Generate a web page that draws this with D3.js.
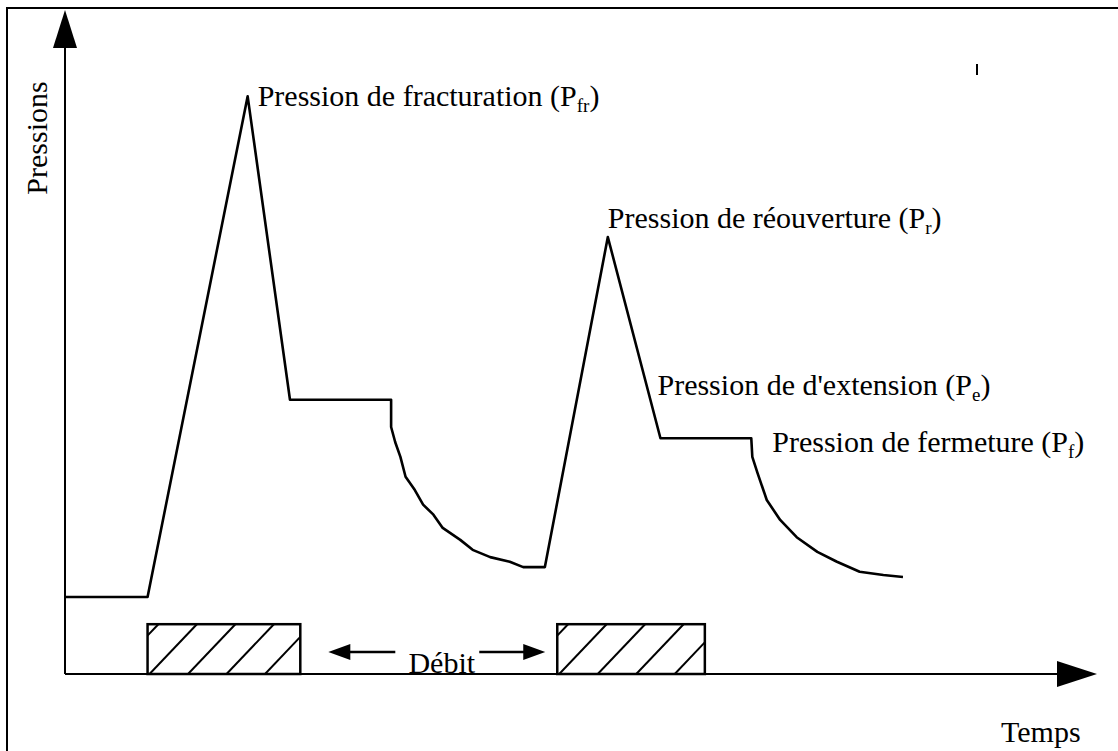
<!DOCTYPE html>
<html>
<head>
<meta charset="utf-8">
<script src="https://cdn.jsdelivr.net/npm/d3@7"></script>
<style>
  html, body { margin: 0; padding: 0; background: #fff; }
  svg { display: block; }
  text { font-family: "Liberation Serif", "Times New Roman", serif; fill: #000; }
</style>
</head>
<body>
<div id="chart"></div>
<script>
const width = 1118;
const height = 751;

// courbe pression / temps (unités arbitraires, 0-100)
const times = [0, 8.0, 17.7, 21.8, 31.6, 31.6, 32.0, 32.5, 33.0, 33.9, 34.7, 35.7, 36.6, 38.3, 39.5, 41.2, 43.1, 44.4, 46.5,
  52.6, 57.7, 66.5, 66.6, 67.1, 68.0, 69.3, 70.9, 72.9, 74.8, 77.0, 79.3, 81.2];
const pressures = [11.6, 11.6, 87.0, 41.3, 41.3, 37.2, 34.9, 32.7, 29.7, 27.7, 25.5, 24.0, 22.0, 20.2, 18.7, 17.6, 16.9, 16.1, 16.1,
  65.8, 35.5, 35.5, 32.7, 30.3, 26.2, 23.2, 20.6, 18.4, 16.9, 15.4, 14.9, 14.6];

// périodes d'injection (débit)
const flowStart = [8.0, 47.7];
const flowEnd = [22.8, 62.0];
const flowLevel = 7.5;

// annotations
const labelTexts = ["Pression de fracturation (P", "Pression de réouverture (P", "Pression de d'extension (P", "Pression de fermeture (P"];
const labelSubs = ["fr", "r", "e", "f"];
const labelPoints = [2, 19, 20, 21]; // index du point de la courbe
const labelOffsets = [[10, 10], [0, -9], [-3, -43], [21, 14]];

const svg = d3.select("#chart")
  .append("svg")
  .attr("width", width)
  .attr("height", height);

svg.append("rect")
  .attr("width", width)
  .attr("height", height)
  .attr("fill", "#fff");

const x = d3.scaleLinear().domain([0, 100]).range([65, 1097]);
const y = d3.scaleLinear().domain([0, 100]).range([674, 10]);

// cadre
svg.append("path")
  .attr("d", `M7,${height} V8 H${width}`)
  .attr("fill", "none")
  .attr("stroke", "#000")
  .attr("stroke-width", 2);

// axes avec flèches
svg.append("line")
  .attr("x1", x(0)).attr("y1", y(0))
  .attr("x2", x(0)).attr("y2", y(100) + 20)
  .attr("stroke", "#000").attr("stroke-width", 2);
svg.append("path")
  .attr("d", `M${x(0)},${y(100)} L${x(0) - 12},${y(100) + 38} L${x(0) + 12},${y(100) + 38} Z`)
  .attr("fill", "#000");

svg.append("line")
  .attr("x1", x(0)).attr("y1", y(0))
  .attr("x2", x(100) - 20).attr("y2", y(0))
  .attr("stroke", "#000").attr("stroke-width", 2);
svg.append("path")
  .attr("d", `M${x(100)},${y(0)} L${x(100) - 40},${y(0) - 13} L${x(100) - 40},${y(0) + 13} Z`)
  .attr("fill", "#000");

svg.append("text")
  .attr("transform", `translate(47,${y(0) - 536}) rotate(-90)`)
  .attr("text-anchor", "middle")
  .attr("font-size", 30)
  .text("Pressions");

svg.append("text")
  .attr("x", 1001)
  .attr("y", 742)
  .attr("font-size", 30)
  .text("Temps");

// courbe
const data = times.map((t, i) => ({ t: t, p: pressures[i] }));
const line = d3.line().x(d => x(d.t)).y(d => y(d.p));

svg.append("path")
  .datum(data)
  .attr("d", line)
  .attr("fill", "none")
  .attr("stroke", "#000")
  .attr("stroke-width", 2.6)
  .attr("stroke-linejoin", "round");

// blocs hachurés du débit
const flows = flowStart.map((s, i) => ({ s: s, e: flowEnd[i] }));
const defs = svg.append("defs");

flows.forEach((f, i) => {
  const x0 = x(f.s), x1 = x(f.e), y0 = y(flowLevel), y1 = y(0);
  const h = y1 - y0;
  defs.append("clipPath").attr("id", "clip" + i)
    .append("rect")
    .attr("x", x0).attr("y", y0)
    .attr("width", x1 - x0).attr("height", h);

  const step = 38.5;
  const starts = d3.range(x0 + 2 - step, x1, step);
  svg.append("g")
    .attr("clip-path", `url(#clip${i})`)
    .selectAll("line")
    .data(starts)
    .enter().append("line")
    .attr("x1", d => d).attr("y1", y1)
    .attr("x2", d => d + h * 0.95).attr("y2", y0)
    .attr("stroke", "#000")
    .attr("stroke-width", 2);

  svg.append("rect")
    .attr("x", x0).attr("y", y0)
    .attr("width", x1 - x0).attr("height", h)
    .attr("fill", "none")
    .attr("stroke", "#000")
    .attr("stroke-width", 2.5);
});

// flèches "Débit"
const arrowY = y(3.3);
const gapL = x(flowEnd[0]) + 28;
const gapR = x(flowStart[1]) - 12;

svg.append("line")
  .attr("x1", gapL + 18).attr("y1", arrowY)
  .attr("x2", gapL + 67).attr("y2", arrowY)
  .attr("stroke", "#000").attr("stroke-width", 2.5);
svg.append("path")
  .attr("d", `M${gapL},${arrowY} L${gapL + 22},${arrowY - 8} L${gapL + 22},${arrowY + 8} Z`)
  .attr("fill", "#000");

svg.append("line")
  .attr("x1", gapR - 66).attr("y1", arrowY)
  .attr("x2", gapR - 18).attr("y2", arrowY)
  .attr("stroke", "#000").attr("stroke-width", 2.5);
svg.append("path")
  .attr("d", `M${gapR},${arrowY} L${gapR - 22},${arrowY - 8} L${gapR - 22},${arrowY + 8} Z`)
  .attr("fill", "#000");

svg.append("text")
  .attr("x", (gapL + gapR) / 2 + 5)
  .attr("y", y(0) - 1)
  .attr("text-anchor", "middle")
  .attr("font-size", 30)
  .text("Débit");

// étiquettes des pressions
labelTexts.forEach((txt, i) => {
  const d = data[labelPoints[i]];
  const t = svg.append("text")
    .attr("x", x(d.t) + labelOffsets[i][0])
    .attr("y", y(d.p) + labelOffsets[i][1])
    .attr("font-size", 30);
  t.append("tspan").text(txt);
  t.append("tspan").attr("font-size", 19).attr("dy", 6).text(labelSubs[i]);
  t.append("tspan").attr("dy", -6).text(")");
});

// petite marque de numérisation
svg.append("line")
  .attr("x1", 977).attr("y1", 64)
  .attr("x2", 977).attr("y2", 75)
  .attr("stroke", "#000").attr("stroke-width", 2);
</script>
</body>
</html>
